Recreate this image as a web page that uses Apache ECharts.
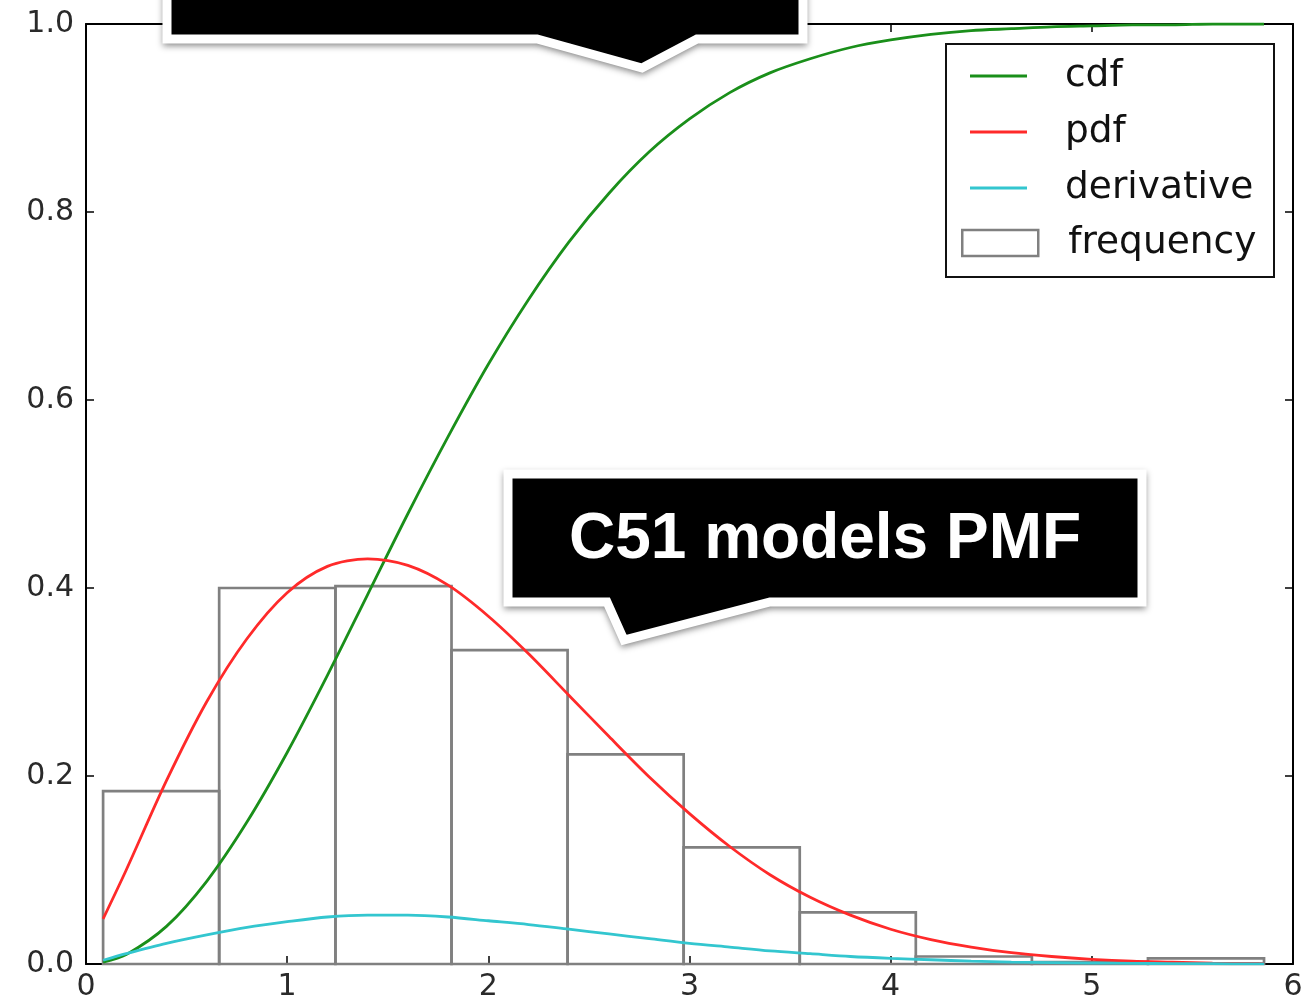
<!DOCTYPE html>
<html>
<head>
<meta charset="utf-8">
<script src="https://cdn.jsdelivr.net/npm/echarts@6/dist/echarts.min.js"></script>
<style>
html,body{margin:0;padding:0;background:#fff;}
#chart{width:1306px;height:1008px;}
</style>
</head>
<body>
<div id="chart"></div>
<script>
// ---- data ----
const xTicks = [0, 1, 2, 3, 4, 5, 6];
const yTicks = [0.0, 0.2, 0.4, 0.6, 0.8, 1.0];
const binEdges = [0.085, 0.662, 1.240, 1.817, 2.394, 2.971, 3.548, 4.125, 4.702, 5.279, 5.856];
const frequency = [0.184, 0.400, 0.402, 0.334, 0.223, 0.124, 0.055, 0.008, 0.002, 0.006];
const xs = [0.085, 0.2, 0.4, 0.6, 0.8, 1.0, 1.2, 1.4, 1.6, 1.8, 2.0, 2.2, 2.4, 2.6, 2.8, 3.0,
            3.2, 3.4, 3.6, 3.8, 4.0, 4.2, 4.4, 4.6, 4.8, 5.0, 5.2, 5.4, 5.6, 5.8, 5.856];
const cdf = [0.002, 0.010, 0.040, 0.088, 0.151, 0.225, 0.307, 0.393, 0.479, 0.561, 0.638, 0.707,
             0.768, 0.820, 0.864, 0.899, 0.927, 0.948, 0.963, 0.975, 0.983, 0.989, 0.993, 0.995,
             0.997, 0.998, 0.999, 0.999, 1.0, 1.0, 1.0];
const pdf = [0.048, 0.100, 0.195, 0.279, 0.346, 0.395, 0.423, 0.431, 0.424, 0.403, 0.370, 0.330,
             0.286, 0.242, 0.199, 0.160, 0.125, 0.095, 0.071, 0.052, 0.037, 0.026, 0.018, 0.012,
             0.008, 0.005, 0.003, 0.002, 0.001, 0.0006, 0.0005];
const derivative = [0.004, 0.011, 0.022, 0.031, 0.039, 0.045, 0.050, 0.052, 0.052, 0.050, 0.046, 0.042,
                    0.037, 0.032, 0.027, 0.022, 0.018, 0.014, 0.011, 0.008, 0.006, 0.0045, 0.003, 0.002,
                    0.0015, 0.001, 0.0007, 0.0004, 0.0003, 0.0002, 0.0002];
const seriesNames = ['cdf', 'pdf', 'derivative', 'frequency'];
const calloutText = 'C51 models PMF';

// ---- build ----
const pairs = (ys) => xs.map((x, i) => [x, ys[i]]);
const histData = frequency.map((h, i) => [binEdges[i], binEdges[i + 1], h]);

const FONT = 'DejaVu Sans';
const GREEN = '#1a8f1a', RED = '#ff2a2a', CYAN = '#33c6cf', EDGE = '#808080';
const chart = echarts.init(document.getElementById('chart'), null, {renderer: 'canvas'});

const axisCommon = {
  axisLine: {show: true, onZero: false, lineStyle: {color: '#000', width: 2}},
  axisTick: {show: true, inside: true, length: 8, lineStyle: {color: '#000', width: 1.5}},
  splitLine: {show: false}
};

const option = {
  backgroundColor: '#ffffff',
  animation: false,
  grid: {left: 86, top: 24, right: 13, bottom: 44, containLabel: false},
  xAxis: [
    Object.assign({}, axisCommon, {
      type: 'value', min: xTicks[0], max: xTicks[xTicks.length - 1], interval: 1, position: 'bottom',
      axisLabel: {show: true, margin: 8, fontFamily: FONT, fontSize: 30, color: '#2a2a2a',
                  formatter: (v) => String(v)}
    }),
    Object.assign({}, axisCommon, {
      type: 'value', min: xTicks[0], max: xTicks[xTicks.length - 1], interval: 1, position: 'top',
      axisLabel: {show: false}
    })
  ],
  yAxis: [
    Object.assign({}, axisCommon, {
      type: 'value', min: yTicks[0], max: yTicks[yTicks.length - 1], interval: 0.2, position: 'left',
      axisLabel: {show: true, margin: 12, fontFamily: FONT, fontSize: 30, color: '#2a2a2a',
                  formatter: (v) => v.toFixed(1)}
    }),
    Object.assign({}, axisCommon, {
      type: 'value', min: yTicks[0], max: yTicks[yTicks.length - 1], interval: 0.2, position: 'right',
      axisLabel: {show: false}
    })
  ],
  legend: [
    {
      data: [
        {name: seriesNames[0], icon: 'rect', itemStyle: {color: GREEN, borderWidth: 0}},
        {name: seriesNames[1], icon: 'rect', itemStyle: {color: RED, borderWidth: 0}},
        {name: seriesNames[2], icon: 'rect', itemStyle: {color: CYAN, borderWidth: 0}}
      ],
      orient: 'vertical', left: 970, top: 56, padding: 0,
      itemWidth: 57, itemHeight: 3, itemGap: 16,
      selectedMode: false,
      textStyle: {fontFamily: FONT, fontSize: 37.5, color: '#111', lineHeight: 40, padding: [0, 0, 0, 33]}
    },
    {
      data: [{name: seriesNames[3], icon: 'rect',
              itemStyle: {color: '#ffffff', borderColor: EDGE, borderWidth: 2.5}}],
      orient: 'vertical', left: 961, top: 223, padding: 0,
      itemWidth: 76, itemHeight: 26,
      selectedMode: false,
      textStyle: {fontFamily: FONT, fontSize: 37.5, color: '#111', lineHeight: 40, padding: [0, 0, 0, 25]}
    }
  ],
  series: [
    {
      name: seriesNames[3], type: 'custom', xAxisIndex: 0, yAxisIndex: 0, z: 1,
      encode: {x: [0, 1], y: 2},
      itemStyle: {color: '#ffffff', borderColor: EDGE},
      renderItem: function (params, api) {
        const x0 = api.value(0), x1 = api.value(1), h = api.value(2);
        const p0 = api.coord([x0, h]);
        const p1 = api.coord([x1, 0]);
        return {
          type: 'rect',
          shape: {x: p0[0], y: p0[1], width: p1[0] - p0[0], height: p1[1] - p0[1]},
          style: {fill: 'rgba(255,255,255,0)', stroke: EDGE, lineWidth: 2.7}
        };
      },
      data: histData
    },
    {
      name: seriesNames[0], type: 'line', data: pairs(cdf), symbol: 'none', smooth: 0.3, z: 3,
      lineStyle: {color: GREEN, width: 2.8}, itemStyle: {color: GREEN}
    },
    {
      name: seriesNames[1], type: 'line', data: pairs(pdf), symbol: 'none', smooth: 0.3, z: 3,
      lineStyle: {color: RED, width: 2.8}, itemStyle: {color: RED}
    },
    {
      name: seriesNames[2], type: 'line', data: pairs(derivative), symbol: 'none', smooth: 0.3, z: 3,
      lineStyle: {color: CYAN, width: 2.8}, itemStyle: {color: CYAN}
    }
  ],
  graphic: [
    // legend frame
    {type: 'rect', z: 50, silent: true,
     shape: {x: 946, y: 44, width: 328, height: 233},
     style: {fill: 'rgba(255,255,255,0)', stroke: '#111', lineWidth: 2}},
    // top callout (cut off by the top edge)
    {type: 'polygon', z: 100, silent: true,
     shape: {points: [[167, -30], [803, -30], [803, 39], [697, 39], [642, 68], [537, 39], [167, 39]]},
     style: {fill: '#000', stroke: '#fff', lineWidth: 9, lineJoin: 'miter',
             shadowBlur: 6, shadowOffsetY: 3, shadowColor: 'rgba(0,0,0,0.35)'}},
    // lower callout
    {type: 'polygon', z: 100, silent: true,
     shape: {points: [[508, 474], [1142, 474], [1142, 602], [770, 602], [624, 640], [607, 602], [508, 602]]},
     style: {fill: '#000', stroke: '#fff', lineWidth: 9, lineJoin: 'miter',
             shadowBlur: 6, shadowOffsetY: 3, shadowColor: 'rgba(0,0,0,0.35)'}},
    {type: 'text', z: 101, silent: true, x: 825, y: 540,
     style: {text: calloutText, fill: '#fff', font: 'bold 64px "Liberation Sans", Arial, sans-serif',
             textAlign: 'center', textVerticalAlign: 'middle'}}
  ]
};
chart.setOption(option);
</script>
</body>
</html>
